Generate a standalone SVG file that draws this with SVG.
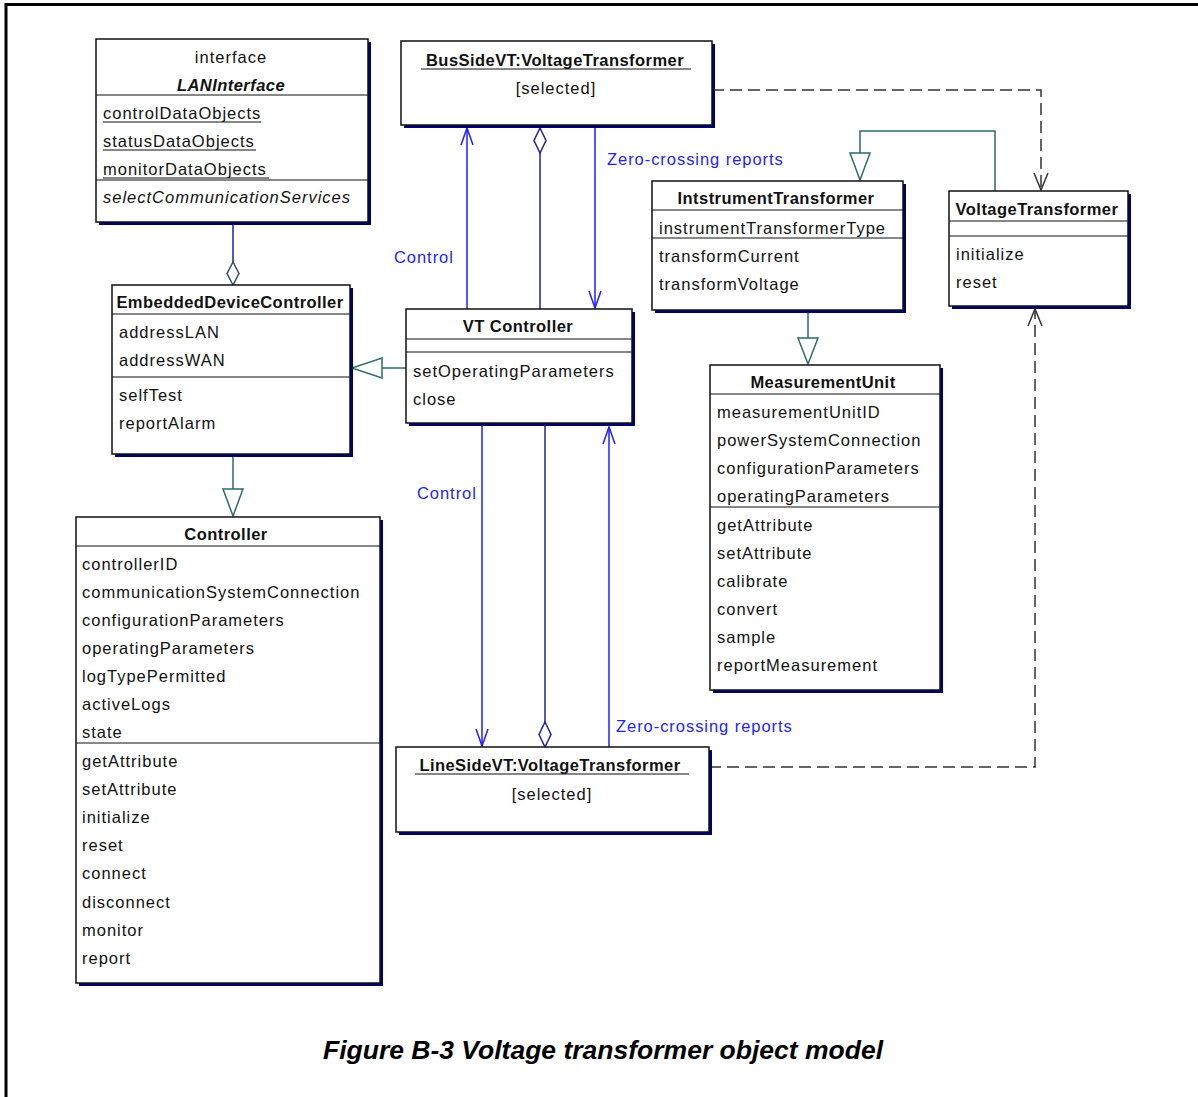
<svg xmlns="http://www.w3.org/2000/svg" width="1198" height="1097" viewBox="0 0 1198 1097">
  <style>
    .shadow { fill: #000070; }
    .box { fill: #ffffff; stroke: #111111; stroke-width: 1.5; }
    .div { stroke: #111111; stroke-width: 1.2; }
    .ul { stroke: #111111; stroke-width: 1.2; }
    text { font-family: "Liberation Sans", Arial, sans-serif; font-size: 16.5px; fill: #111111; }
    .t { letter-spacing: 1px; }
    .b { font-weight: bold; letter-spacing: 0.45px; text-anchor: middle; }
    .c { text-anchor: middle; letter-spacing: 1px; }
    .it { font-style: italic; letter-spacing: 1px; }
    .lbl { fill: #1f1fff; letter-spacing: 0.95px; }
    .cap { font-size: 26.5px; font-weight: bold; font-style: italic; text-anchor: middle; fill: #000000; letter-spacing: 0; }
    .blue { stroke: #1f1fff; stroke-width: 1.5; fill: none; }
    .navy { stroke: #2020a0; stroke-width: 1.5; fill: none; }
    .teal { stroke: #2e6b6b; stroke-width: 1.5; fill: none; }
    .dash { stroke: #333333; stroke-width: 1.5; fill: none; stroke-dasharray: 12 6; }
    .tri { fill: #ffffff; stroke: #2e6b6b; stroke-width: 1.5; }
    .dia { fill: #ffffff; stroke-width: 1.5; }
  </style>

  <!-- page frame -->
  <line x1="5" y1="4.5" x2="1198" y2="4.5" stroke="#000" stroke-width="3"/>
  <line x1="6" y1="3" x2="6" y2="1097" stroke="#000" stroke-width="3"/>

  <!-- connectors -->
  <g id="connectors">
    <!-- LANInterface aggregated by EmbeddedDeviceController -->
    <line class="navy" x1="233" y1="222" x2="233" y2="262"/>
    <polygon class="dia" stroke="#2e4f6f" points="233,262 239,273.5 233,285 227,273.5"/>

    <!-- EmbeddedDeviceController generalizes to Controller -->
    <line class="teal" x1="233" y1="457" x2="233" y2="489"/>
    <polygon class="tri" points="223,489 243,489 233,516"/>

    <!-- VT Controller generalizes to EmbeddedDeviceController -->
    <line class="teal" x1="406" y1="368" x2="382" y2="368"/>
    <polygon class="tri" points="382,358 382,378 352,368"/>

    <!-- VoltageTransformer generalizes to IntstrumentTransformer -->
    <polyline class="teal" points="995,191 995,131 860,131 860,153"/>
    <polygon class="tri" points="850,153 870,153 860,180"/>

    <!-- MeasurementUnit generalizes to IntstrumentTransformer -->
    <line class="teal" x1="808" y1="313" x2="808" y2="338"/>
    <polygon class="tri" points="798,338 818,338 808,364"/>

    <!-- dependencies on VoltageTransformer -->
    <polyline class="dash" points="712,90 1041,90 1041,190"/>
    <polyline fill="none" stroke="#333" stroke-width="1.5" points="1034,173 1041,190 1048,173"/>
    <polyline class="dash" points="709,767 1035,767 1035,308"/>
    <polyline fill="none" stroke="#333" stroke-width="1.5" points="1028,326 1035,309 1042,326"/>

    <!-- BusSideVT to VT Controller -->
    <line class="blue" x1="467" y1="309" x2="467" y2="128"/>
    <polyline class="blue" points="461,145 467,128 473,145"/>
    <line class="navy" x1="540" y1="309" x2="540" y2="153"/>
    <polygon class="dia" stroke="#2020a0" points="540,128 546,140.5 540,153 534,140.5"/>
    <line class="blue" x1="595" y1="128" x2="595" y2="308"/>
    <polyline class="blue" points="589,291 595,308 601,291"/>

    <!-- VT Controller to LineSideVT -->
    <line class="blue" x1="482" y1="426" x2="482" y2="746"/>
    <polyline class="blue" points="476,729 482,746 488,729"/>
    <line class="navy" x1="545" y1="426" x2="545" y2="722"/>
    <polygon class="dia" stroke="#2020a0" points="545,722 551,734.5 545,747 539,734.5"/>
    <line class="blue" x1="609" y1="747" x2="609" y2="427"/>
    <polyline class="blue" points="603,444 609,427 615,444"/>

    <text class="lbl" x="394" y="263">Control</text>
    <text class="lbl" x="607" y="165">Zero-crossing reports</text>
    <text class="lbl" x="417" y="499">Control</text>
    <text class="lbl" x="616" y="732">Zero-crossing reports</text>
  </g>

  <!-- interface LANInterface -->
  <g id="LANInterface">
    <rect class="shadow" x="99" y="42" width="272" height="183"/>
    <rect class="box" x="96" y="39" width="272" height="183"/>
    <line class="div" x1="96" y1="95" x2="368" y2="95"/>
    <line class="div" x1="96" y1="180" x2="368" y2="180"/>
    <text class="c" x="231" y="63">interface</text>
    <text class="b" x="231" y="91" font-style="italic">LANInterface</text>
    <text class="t" x="103" y="119">controlDataObjects</text>
    <line class="ul" x1="103" y1="122" x2="261" y2="122"/>
    <text class="t" x="103" y="147">statusDataObjects</text>
    <line class="ul" x1="103" y1="150" x2="256" y2="150"/>
    <text class="t" x="103" y="175">monitorDataObjects</text>
    <line class="ul" x1="103" y1="178" x2="269" y2="178"/>
    <text class="it" x="103" y="203">selectCommunicationServices</text>
  </g>

  <!-- object BusSideVT -->
  <g id="BusSideVT">
    <rect class="shadow" x="404" y="44" width="311" height="84"/>
    <rect class="box" x="401" y="41" width="311" height="84"/>
    <text class="b" x="555" y="66">BusSideVT:VoltageTransformer</text>
    <line class="ul" x1="421" y1="69" x2="691" y2="69"/>
    <text class="c" x="556" y="94">[selected]</text>
  </g>

  <!-- class IntstrumentTransformer -->
  <g id="IntstrumentTransformer">
    <rect class="shadow" x="655" y="184" width="251" height="129"/>
    <rect class="box" x="652" y="181" width="251" height="129"/>
    <line class="div" x1="652" y1="210" x2="903" y2="210"/>
    <line class="div" x1="652" y1="238" x2="903" y2="238"/>
    <text class="b" x="776" y="204">IntstrumentTransformer</text>
    <text class="t" x="659" y="234">instrumentTransformerType</text>
    <text class="t" x="659" y="262">transformCurrent</text>
    <text class="t" x="659" y="290">transformVoltage</text>
  </g>

  <!-- class VoltageTransformer -->
  <g id="VoltageTransformer">
    <rect class="shadow" x="952" y="194" width="179" height="115"/>
    <rect class="box" x="949" y="191" width="179" height="115"/>
    <line class="div" x1="949" y1="221" x2="1128" y2="221"/>
    <line class="div" x1="949" y1="236" x2="1128" y2="236"/>
    <text class="b" x="1037" y="215">VoltageTransformer</text>
    <text class="t" x="956" y="260">initialize</text>
    <text class="t" x="956" y="288">reset</text>
  </g>

  <!-- class EmbeddedDeviceController -->
  <g id="EmbeddedDeviceController">
    <rect class="shadow" x="115" y="288" width="238" height="169"/>
    <rect class="box" x="112" y="285" width="238" height="169"/>
    <line class="div" x1="112" y1="314" x2="350" y2="314"/>
    <line class="div" x1="112" y1="377" x2="350" y2="377"/>
    <text class="b" x="230" y="308">EmbeddedDeviceController</text>
    <text class="t" x="119" y="338">addressLAN</text>
    <text class="t" x="119" y="366">addressWAN</text>
    <text class="t" x="119" y="401">selfTest</text>
    <text class="t" x="119" y="429">reportAlarm</text>
  </g>

  <!-- class VT Controller -->
  <g id="VTController">
    <rect class="shadow" x="409" y="312" width="226" height="114"/>
    <rect class="box" x="406" y="309" width="226" height="114"/>
    <line class="div" x1="406" y1="339" x2="632" y2="339"/>
    <line class="div" x1="406" y1="352" x2="632" y2="352"/>
    <text class="b" x="518" y="332">VT Controller</text>
    <text class="t" x="413" y="377">setOperatingParameters</text>
    <text class="t" x="413" y="405">close</text>
  </g>

  <!-- class MeasurementUnit -->
  <g id="MeasurementUnit">
    <rect class="shadow" x="713" y="368" width="230" height="325"/>
    <rect class="box" x="710" y="365" width="230" height="325"/>
    <line class="div" x1="710" y1="394" x2="940" y2="394"/>
    <line class="div" x1="710" y1="507" x2="940" y2="507"/>
    <text class="b" x="823" y="388">MeasurementUnit</text>
    <text class="t" x="717" y="418">measurementUnitID</text>
    <text class="t" x="717" y="446">powerSystemConnection</text>
    <text class="t" x="717" y="474">configurationParameters</text>
    <text class="t" x="717" y="502">operatingParameters</text>
    <text class="t" x="717" y="531">getAttribute</text>
    <text class="t" x="717" y="559">setAttribute</text>
    <text class="t" x="717" y="587">calibrate</text>
    <text class="t" x="717" y="615">convert</text>
    <text class="t" x="717" y="643">sample</text>
    <text class="t" x="717" y="671">reportMeasurement</text>
  </g>

  <!-- class Controller -->
  <g id="Controller">
    <rect class="shadow" x="79" y="520" width="304" height="466"/>
    <rect class="box" x="76" y="517" width="304" height="466"/>
    <line class="div" x1="76" y1="546" x2="380" y2="546"/>
    <line class="div" x1="76" y1="743" x2="380" y2="743"/>
    <text class="b" x="226" y="540">Controller</text>
    <text class="t" x="82" y="570">controllerID</text>
    <text class="t" x="82" y="598">communicationSystemConnection</text>
    <text class="t" x="82" y="626">configurationParameters</text>
    <text class="t" x="82" y="654">operatingParameters</text>
    <text class="t" x="82" y="682">logTypePermitted</text>
    <text class="t" x="82" y="710">activeLogs</text>
    <text class="t" x="82" y="738">state</text>
    <text class="t" x="82" y="767">getAttribute</text>
    <text class="t" x="82" y="795">setAttribute</text>
    <text class="t" x="82" y="823">initialize</text>
    <text class="t" x="82" y="851">reset</text>
    <text class="t" x="82" y="879">connect</text>
    <text class="t" x="82" y="908">disconnect</text>
    <text class="t" x="82" y="936">monitor</text>
    <text class="t" x="82" y="964">report</text>
  </g>

  <!-- object LineSideVT -->
  <g id="LineSideVT">
    <rect class="shadow" x="399" y="750" width="313" height="85"/>
    <rect class="box" x="396" y="747" width="313" height="85"/>
    <text class="b" x="550" y="771">LineSideVT:VoltageTransformer</text>
    <line class="ul" x1="415" y1="774" x2="689" y2="774"/>
    <text class="c" x="552" y="800">[selected]</text>
  </g>

  <!-- caption -->
  <text class="cap" x="603" y="1059">Figure B-3 Voltage transformer object model</text>
</svg>
